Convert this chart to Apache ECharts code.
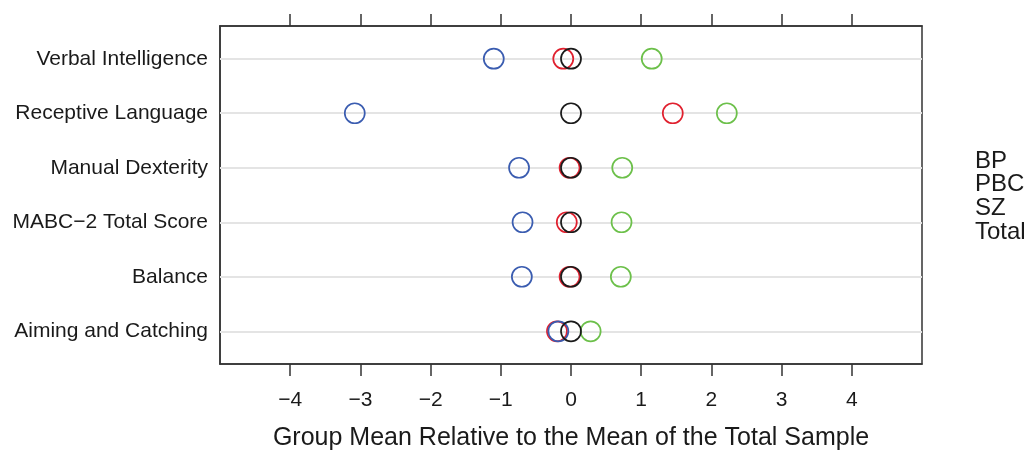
<!DOCTYPE html>
<html><head><meta charset="utf-8">
<script src="https://cdn.jsdelivr.net/npm/echarts@6/dist/echarts.min.js"></script>
<style>html,body{margin:0;padding:0;background:#fff}#c{width:1032px;height:452px}</style>
</head><body><div id="c"></div>
<script>
// Categories from bottom (1) to top (6)
const categories = ["Aiming and Catching", "Balance", "MABC\u22122 Total Score", "Manual Dexterity", "Receptive Language", "Verbal Intelligence"];
const seriesNames = ["BP", "PBC", "SZ", "Total"];
const bpValues    = [-0.20, -0.02, -0.06, -0.02, 1.45, -0.11];
const pbcValues   = [0.28, 0.71, 0.72, 0.73, 2.22, 1.15];
const szValues    = [-0.18, -0.70, -0.69, -0.74, -3.08, -1.10];
const totalValues = [0.00, 0.00, 0.00, 0.00, 0.00, 0.00];
const xTicks = [-4, -3, -2, -1, 0, 1, 2, 3, 4];
const rowPositions = [1, 2, 3, 4, 5, 6];

const colors = {BP: "#e0202e", PBC: "#6cc04a", SZ: "#3a5cb0", Total: "#1a1a1a"};
const valuesByName = {BP: bpValues, PBC: pbcValues, SZ: szValues, Total: totalValues};
const drawOrder = ["BP", "PBC", "SZ", "Total"];
const font = "Liberation Sans, Arial, Helvetica, sans-serif";
const fmtNum = v => (v < 0 ? "\u2212" + Math.abs(v) : String(v));

const series = drawOrder.map((name, si) => ({
  name: name,
  type: "scatter",
  symbol: "circle",
  symbolSize: 20,
  z: 3 + si,
  itemStyle: {color: "rgba(0,0,0,0)", borderColor: colors[name], borderWidth: 1.7, opacity: 1},
  data: valuesByName[name].map((v, i) => [v, rowPositions[i]]),
  markLine: si === 0 ? {
    silent: true, symbol: "none", label: {show: false},
    lineStyle: {color: "#e4e4e4", width: 2, type: "solid"},
    z: 1,
    data: rowPositions.map(p => ({yAxis: p}))
  } : undefined
}));

const chart = echarts.init(document.getElementById("c"), null, {renderer: "canvas"});
chart.setOption({
  animation: false,
  backgroundColor: "#fff",
  grid: {left: 220, right: 110, top: 26, bottom: 88, outerBoundsMode: "none", containLabel: false, show: true, borderColor: "#333", borderWidth: 1.5, backgroundColor: "transparent"},
  xAxis: [{
    type: "value", min: -5, max: 5, interval: 1, position: "bottom",
    name: "Group Mean Relative to the Mean of the Total Sample",
    nameLocation: "middle", nameGap: 62,
    nameTextStyle: {fontFamily: font, fontSize: 25, color: "#1a1a1a"},
    axisLine: {show: true, onZero: false, lineStyle: {color: "#333", width: 1.5}},
    axisTick: {show: true, length: 12, customValues: xTicks, lineStyle: {color: "#333", width: 1.5}},
    axisLabel: {show: true, customValues: xTicks, formatter: fmtNum, margin: 26, fontFamily: font, fontSize: 21, color: "#1a1a1a"},
    splitLine: {show: false}
  }, {
    type: "value", min: -5, max: 5, interval: 1, position: "top",
    axisLine: {show: true, onZero: false, lineStyle: {color: "#333", width: 1.5}},
    axisTick: {show: true, length: 12, customValues: xTicks, lineStyle: {color: "#333", width: 1.5}},
    axisLabel: {show: false},
    splitLine: {show: false}
  }],
  yAxis: {
    type: "value", min: 0.4, max: 6.6,
    axisLine: {show: true, onZero: false, lineStyle: {color: "#333", width: 1.5}},
    axisTick: {show: false},
    axisLabel: {show: true, customValues: rowPositions, formatter: v => categories[Math.round(v) - 1] || "", margin: 12, fontFamily: font, fontSize: 21, color: "#1a1a1a"},
    splitLine: {show: false}
  },
  series: series,
  graphic: seriesNames.map((n, i) => ({
    type: "text", left: 975, top: 149 + i * 23.7,
    style: {text: n, fontFamily: font, fontSize: 24, fill: "#1a1a1a"}
  }))
});
</script></body></html>
